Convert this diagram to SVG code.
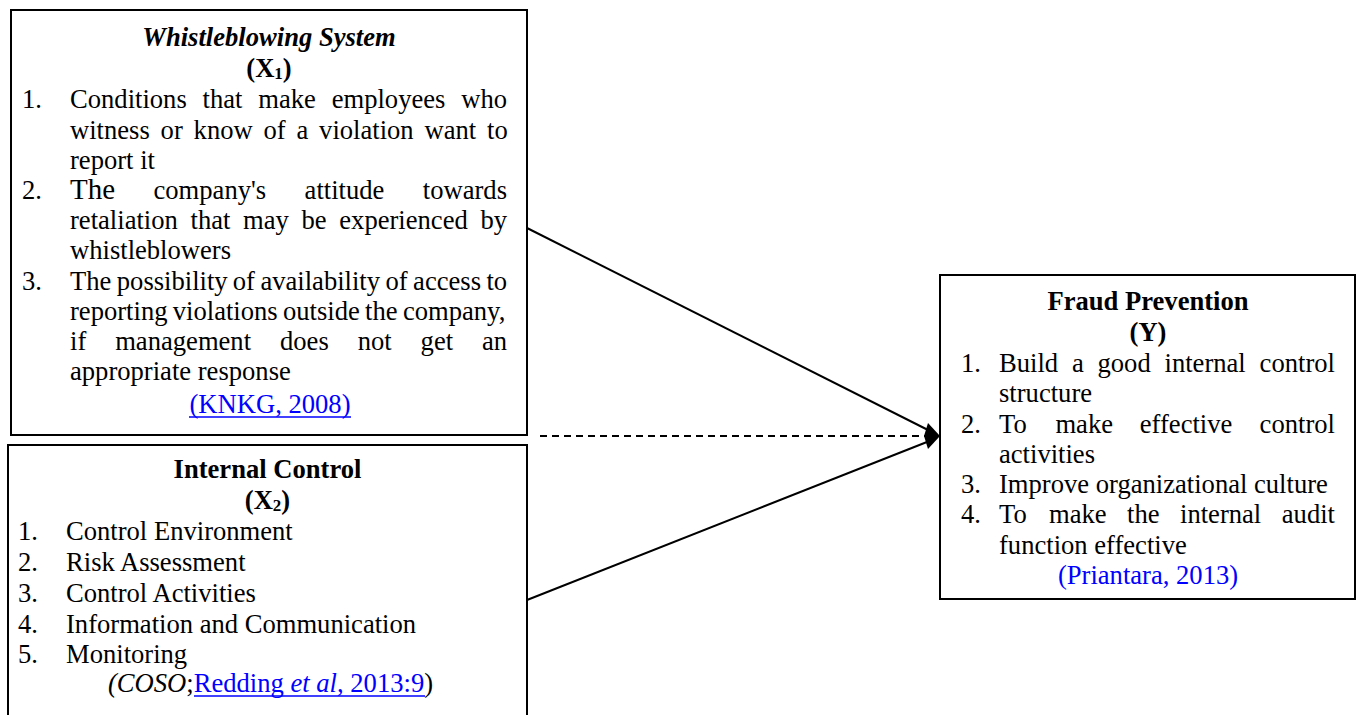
<svg xmlns="http://www.w3.org/2000/svg" width="1357" height="715" viewBox="0 0 1357 715">
<style>
text{font-family:"Liberation Serif","Times New Roman",serif;font-size:26.6px;fill:#000}
.b{font-weight:bold}
.i{font-style:italic}
.lnk{fill:#0000ff}
.box{fill:#fff;stroke:#000;stroke-width:2}
.ul{stroke:#0000ff;stroke-width:1.6}
.c{stroke:#000;stroke-width:2;fill:none}
.m{text-anchor:middle}
</style>
<rect width="1357" height="715" fill="#fff"/>
<g id="connectors">
<line class="c" x1="527" y1="228" x2="932" y2="432"/>
<line class="c" x1="527" y1="600" x2="932" y2="440"/>
<line class="c" x1="540" y1="436" x2="926" y2="436" stroke-dasharray="7,5"/>
<polygon points="940,436 928,423 924,436 928,449" fill="#000"/>
</g>
<g id="node-x1">
<rect class="box" x="11" y="10" width="516" height="425"/>
<text class="b i m" x="269" y="46">Whistleblowing System</text>
<text class="b m" x="269" y="77">(X<tspan font-size="17" dy="2">1</tspan><tspan dy="-2">)</tspan></text>
<text x="22" y="108">1.</text>
<text y="108"><tspan x="70">Conditions</tspan><tspan x="202.6">that</tspan><tspan x="258.3">make</tspan><tspan x="331.7">employees</tspan><tspan x="461.3">who</tspan></text>
<text y="138.5"><tspan x="70">witness</tspan><tspan x="160.6">or</tspan><tspan x="193.6">know</tspan><tspan x="263.5">of</tspan><tspan x="296.5">a</tspan><tspan x="319.1">violation</tspan><tspan x="424.5">want</tspan><tspan x="487">to</tspan></text>
<text x="70" y="168.5">report it</text>
<text x="22" y="199">2.</text>
<text y="199"><tspan x="70" font-size="29">The</tspan><tspan x="153.5">company's</tspan><tspan x="304.6">attitude</tspan><tspan x="422.8">towards</tspan></text>
<text y="229"><tspan x="70">retaliation</tspan><tspan x="190.5">that</tspan><tspan x="243.1">may</tspan><tspan x="301.5">be</tspan><tspan x="339.3">experienced</tspan><tspan x="480.4">by</tspan></text>
<text x="70" y="259">whistleblowers</text>
<text x="22" y="289.5">3.</text>
<text y="289.5"><tspan x="70">The</tspan><tspan x="116.8">possibility</tspan><tspan x="232.8">of</tspan><tspan x="260.4">availability</tspan><tspan x="385.5">of</tspan><tspan x="413.1">access</tspan><tspan x="486.4">to</tspan></text>
<text y="319.5"><tspan x="70">reporting</tspan><tspan x="172.8">violations</tspan><tspan x="283">outside</tspan><tspan x="365.1">the</tspan><tspan x="402.9">company,</tspan></text>
<text y="349.5"><tspan x="70">if</tspan><tspan x="115.2">management</tspan><tspan x="280">does</tspan><tspan x="357.7">not</tspan><tspan x="420.6">get</tspan><tspan x="482">an</tspan></text>
<text x="70" y="379.5">appropriate response</text>
<text class="lnk m" x="270" y="413">(KNKG, 2008)</text>
<line class="ul" x1="189" y1="417" x2="351" y2="417"/>
</g>
<g id="node-x2">
<rect class="box" x="8" y="445" width="519" height="290"/>
<text class="b m" x="267.5" y="478">Internal Control</text>
<text class="b m" x="267.5" y="509">(X<tspan font-size="17" dy="2">2</tspan><tspan dy="-2">)</tspan></text>
<text x="18" y="540">1.</text><text x="66" y="540">Control Environment</text>
<text x="18" y="571">2.</text><text x="66" y="571">Risk Assessment</text>
<text x="18" y="601.7">3.</text><text x="66" y="601.7">Control Activities</text>
<text x="18" y="632.5">4.</text><text x="66" y="632.5">Information and Communication</text>
<text x="18" y="663.3">5.</text><text x="66" y="663.3">Monitoring</text>
<text x="108" y="692"><tspan class="i">(COSO</tspan>;<tspan class="lnk">Redding <tspan class="i">et al</tspan>, 2013:9</tspan>)</text>
<line class="ul" x1="194" y1="696" x2="425" y2="696"/>
</g>
<g id="node-y">
<rect class="box" x="940" y="275" width="415" height="324"/>
<text class="b m" x="1148" y="310">Fraud Prevention</text>
<text class="b m" x="1148" y="341">(Y)</text>
<text x="961" y="371.7">1.</text>
<text y="371.7"><tspan x="999">Build</tspan><tspan x="1071.9">a</tspan><tspan x="1097.5">good</tspan><tspan x="1164.5">internal</tspan><tspan x="1259.6">control</tspan></text>
<text x="999" y="401.7">structure</text>
<text x="961" y="432.7">2.</text>
<text y="432.7"><tspan x="999">To</tspan><tspan x="1055.4">make</tspan><tspan x="1139.8">effective</tspan><tspan x="1259.6">control</tspan></text>
<text x="999" y="462.7">activities</text>
<text x="961" y="493.3">3.</text><text x="999" y="493.3">Improve organizational culture</text>
<text x="961" y="523.3">4.</text>
<text y="523.3"><tspan x="999">To</tspan><tspan x="1049">make</tspan><tspan x="1127.1">the</tspan><tspan x="1180">internal</tspan><tspan x="1281.8">audit</tspan></text>
<text x="999" y="554">function effective</text>
<text class="lnk m" x="1148" y="584">(Priantara, 2013)</text>
</g>
</svg>
